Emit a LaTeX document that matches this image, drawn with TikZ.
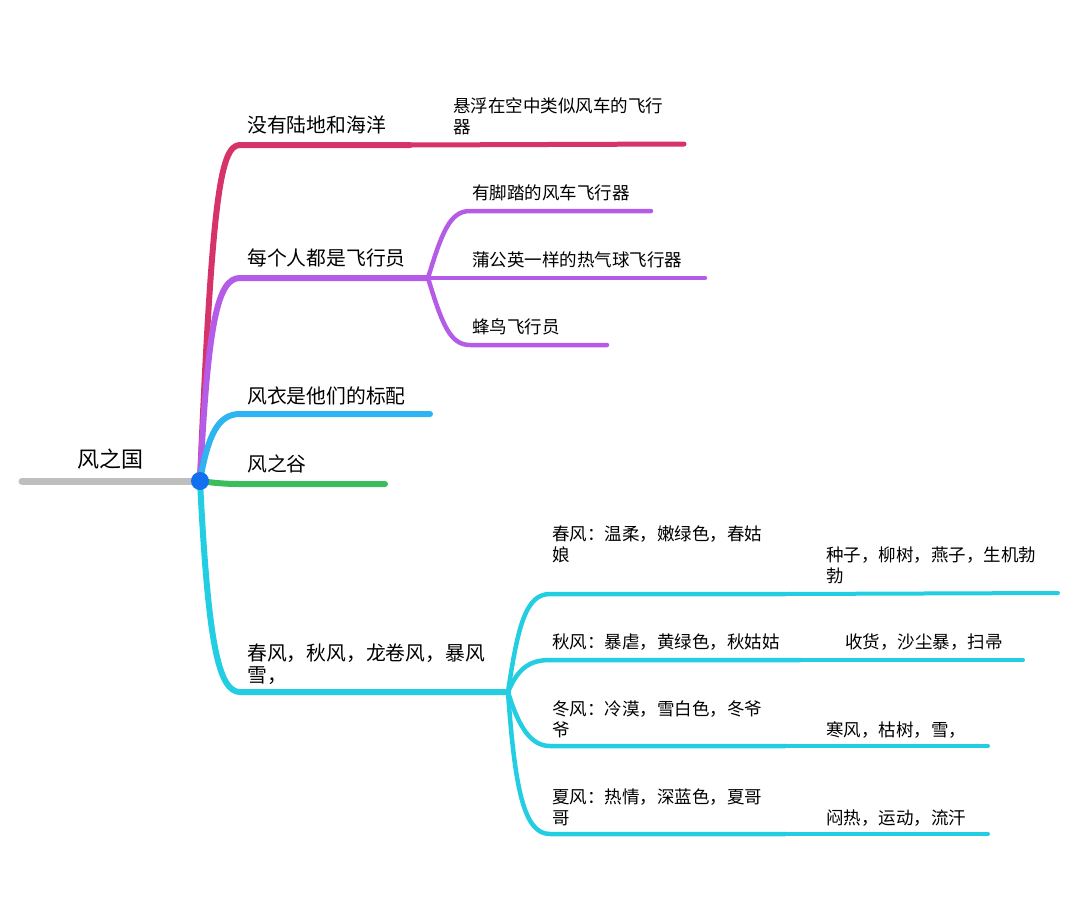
\documentclass[tikz,border=0pt]{standalone}
\usepackage{fontspec}
\setmainfont{Noto Sans CJK SC}
\definecolor{rootgray}{RGB}{190,190,190}
\definecolor{dotblue}{RGB}{18,112,240}
\definecolor{wred}{RGB}{214,52,105}
\definecolor{wpurple}{RGB}{180,92,232}
\definecolor{wblue}{RGB}{46,180,240}
\definecolor{wgreen}{RGB}{58,190,92}
\definecolor{wcyan}{RGB}{36,206,226}
\tikzset{
    branch/.style={line width=6pt, line cap=round},
    twig/.style={line width=4.5pt, line cap=round},
    mainlbl/.style={font=\fontsize{19.8}{22}\selectfont, inner sep=0pt, anchor=west, align=left},
    sublbl/.style={font=\fontsize{17.5}{21}\selectfont, inner sep=0pt, anchor=west, align=left},
}
\begin{document}
\begin{tikzpicture}[x=1pt,y=-1pt]
    \useasboundingbox (0,0) rectangle (1080,906);
    % points of the map
    \coordinate (root) at (200,481);
    \coordinate (g0) at (22,481);
    \coordinate (r1) at (240,145);  \coordinate (r2) at (410,145);  \coordinate (r3) at (684,144);
    \coordinate (p1) at (240,278);  \coordinate (p2) at (428,278);
    \coordinate (p3a) at (470,211); \coordinate (p3b) at (651,211);
    \coordinate (p4a) at (470,278); \coordinate (p4b) at (705,278);
    \coordinate (p5a) at (470,345); \coordinate (p5b) at (607,345);
    \coordinate (b1) at (240,414);  \coordinate (b2) at (430,414);
    \coordinate (gr1) at (240,484); \coordinate (gr2) at (385,484);
    \coordinate (c1) at (240,692);  \coordinate (c2) at (508,692);
    \coordinate (s1a) at (550,594); \coordinate (s1b) at (785,594); \coordinate (s1c) at (1058,593);
    \coordinate (s2a) at (550,660); \coordinate (s2b) at (800,660); \coordinate (s2c) at (1023,660);
    \coordinate (s3a) at (550,746); \coordinate (s3b) at (785,746); \coordinate (s3c) at (988,746);
    \coordinate (s4a) at (550,834); \coordinate (s4b) at (785,834); \coordinate (s4c) at (988,834);

    % root
    \draw[line width=7pt, line cap=round, rootgray] (g0) -- (root);
    \node[font=\fontsize{22}{24}\selectfont, inner sep=0pt] (top) at (110,459) {风之国};

    % red
    \draw[branch, wred] (root) .. controls (212,200) and (220,145) .. (r1) -- (r2);
    \draw[twig, wred, line width=5pt] (r2) -- (r3);
    \node[mainlbl] (land) at (247,125) {没有陆地和海洋};
    \node[sublbl] (float) at (453,116.5) {悬浮在空中类似风车的飞行\\器};

    % purple
    \draw[branch, wpurple] (root) .. controls (208,320) and (218,278) .. (p1) -- (p2);
    \draw[twig, wpurple] (p2) .. controls (442,232) and (450,211) .. (p3a) -- (p3b);
    \draw[twig, wpurple] (p2) -- (p4a) -- (p4b);
    \draw[twig, wpurple] (p2) .. controls (442,324) and (450,345) .. (p5a) -- (p5b);
    \node[mainlbl] (pilot) at (247,258) {每个人都是飞行员};
    \node[sublbl] (pedal) at (472,193) {有脚踏的风车飞行器};
    \node[sublbl] (balloon) at (472,260) {蒲公英一样的热气球飞行器};
    \node[sublbl] (bird) at (472,327) {蜂鸟飞行员};

    % blue and green
    \draw[branch, wblue] (root) .. controls (208,435) and (218,414) .. (b1) -- (b2);
    \node[mainlbl] (coat) at (247,396) {风衣是他们的标配};
    \draw[branch, wgreen] (root) .. controls (215,483) and (225,484) .. (gr1) -- (gr2);
    \node[mainlbl] (valley) at (247,464) {风之谷};

    % cyan
    \draw[branch, wcyan] (root) .. controls (208,640) and (218,692) .. (c1) -- (c2);
    \node[mainlbl] (winds) at (247,664) {春风，秋风，龙卷风，暴风\\雪，};
    \draw[twig, wcyan] (c2) .. controls (518,625) and (526,594) .. (s1a) -- (s1b);
    \draw[twig, wcyan] (c2) .. controls (518,668) and (530,660) .. (s2a) -- (s2b);
    \draw[twig, wcyan] (c2) .. controls (518,725) and (530,746) .. (s3a) -- (s3b);
    \draw[twig, wcyan] (c2) .. controls (515,790) and (524,834) .. (s4a) -- (s4b);
    \draw[twig, wcyan, line width=4pt] (s1b) -- (s1c);
    \draw[twig, wcyan, line width=4pt] (s2b) -- (s2c);
    \draw[twig, wcyan, line width=4pt] (s3b) -- (s3c);
    \draw[twig, wcyan, line width=4pt] (s4b) -- (s4c);
    \node[sublbl] (spring) at (552,544) {春风：温柔，嫩绿色，春姑\\娘};
    \node[sublbl] (seeds) at (826,565) {种子，柳树，燕子，生机勃\\勃};
    \node[sublbl] (autumn) at (552,642) {秋风：暴虐，黄绿色，秋姑姑};
    \node[sublbl] (harvest) at (845,642) {收货，沙尘暴，扫帚};
    \node[sublbl] (winter) at (552,719) {冬风：冷漠，雪白色，冬爷\\爷};
    \node[sublbl] (cold) at (826,730) {寒风，枯树，雪，};
    \node[sublbl] (summer) at (552,807) {夏风：热情，深蓝色，夏哥\\哥};
    \node[sublbl] (sweat) at (826,818) {闷热，运动，流汗};

    % centre dot
    \fill[dotblue] (root) circle (9);
\end{tikzpicture}
\end{document}
